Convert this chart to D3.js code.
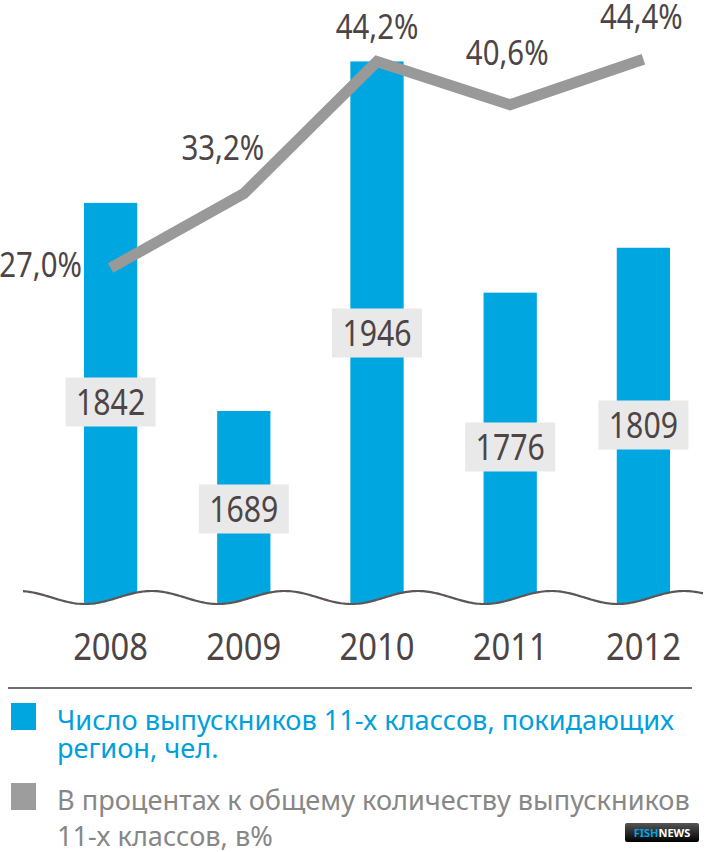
<!DOCTYPE html>
<html><head><meta charset="utf-8">
<script src="https://cdn.jsdelivr.net/npm/d3@7"></script>
<style>
html,body{margin:0;padding:0;background:#fff;}
svg{display:block;}
text{font-family:"Noto Sans",sans-serif;}
</style></head>
<body>
<script>
// ---- data ----
const years = ["2008","2009","2010","2011","2012"];
const graduatesLeaving = [1842, 1689, 1946, 1776, 1809];
const sharePercent = [27.0, 33.2, 44.2, 40.6, 44.4];
const shareLabels = ["27,0%","33,2%","44,2%","40,6%","44,4%"];
const legendLabels = [
  ["Число выпускников 11-х классов, покидающих","регион, чел."],
  ["В процентах к общему количеству выпускников","11-х классов, в%"]
];

// ---- layout (not data) ----
const W = 709, H = 852;
const valueLabelY = [402, 509, 333, 447, 425];
const pctLabelPos = [[-70, 9], [-21, -34], [0, -23], [-3, -40], [-2, -30]];
const COND = 0.84;

const svg = d3.select("body").append("svg").attr("width", W).attr("height", H);

const x = d3.scaleBand().domain(years).range([44, 710]).paddingInner(0.6).paddingOuter(0.3);
const yBar = d3.scaleLinear().domain([1550, 1950]).range([600, 56]);
const yPct = d3.scaleLinear().domain([0, 45]).range([592, 52]);
const cx = d => x(d) + x.bandwidth() / 2;

// bars
svg.append("g").selectAll("rect").data(years).join("rect")
  .attr("x", d => x(d)).attr("width", x.bandwidth())
  .attr("y", (d, i) => yBar(graduatesLeaving[i]))
  .attr("height", (d, i) => 615 - yBar(graduatesLeaving[i]))
  .attr("fill", "#00a6e0");

// wave baseline
const waveY = xx => 597.5 + 6.5 * Math.cos(2 * Math.PI * (xx - 85) / x.step());
const wavePts = d3.range(23, 705, 2).map(xx => [xx, waveY(xx)]);
const waveLine = d3.line();
svg.append("path")
  .attr("d", waveLine(wavePts) + `L704,630L23,630Z`)
  .attr("fill", "#fff");
svg.append("path")
  .attr("d", waveLine(wavePts))
  .attr("fill", "none").attr("stroke", "#5e5656").attr("stroke-width", 2.2);

// line
const line = d3.line().x((d, i) => cx(years[i])).y(d => yPct(d));
svg.append("path").attr("d", line(sharePercent))
  .attr("fill", "none").attr("stroke", "#999999").attr("stroke-width", 11)
  .attr("stroke-linejoin", "miter").attr("stroke-linecap", "butt");

// condensed text helper
function ctext(g, tx, ty, str, size, fill, anchor, sx) {
  return g.append("g").attr("transform", `translate(${tx},${ty}) scale(${sx},1)`)
    .append("text").attr("text-anchor", anchor).attr("font-size", size)
    .attr("fill", fill).text(str);
}

// value labels
const vl = svg.append("g");
years.forEach((yr, i) => {
  const c = cx(yr), cy = valueLabelY[i];
  vl.append("rect").attr("x", c - 45).attr("y", cy - 24.5).attr("width", 90).attr("height", 49)
    .attr("fill", "#e9e9e9");
  ctext(vl, c, cy + 13, String(graduatesLeaving[i]), 36, "#4d4545", "middle", COND);
});

// percent labels
const pl = svg.append("g");
years.forEach((yr, i) => {
  const px = cx(yr) + pctLabelPos[i][0], py = yPct(sharePercent[i]) + pctLabelPos[i][1];
  ctext(pl, px, py, shareLabels[i], 35, "#4d4545", "middle", COND);
});

// x axis labels
const xa = svg.append("g");
years.forEach(yr => ctext(xa, cx(yr), 660, yr, 39, "#4d4545", "middle", COND));

// separator
svg.append("line").attr("x1", 8).attr("x2", 692).attr("y1", 688).attr("y2", 688)
  .attr("stroke", "#6e6e6e").attr("stroke-width", 2);

// legend
const lg = svg.append("g");
const legColors = ["#00a6e0", "#9d9d9d"];
const legText = ["#00a0dc", "#878787"];
const legY = [730, 810];
const legLine2 = [758, 846];
legendLabels.forEach((lines, k) => {
  lg.append("rect").attr("x", 11).attr("y", legY[k] - 27).attr("width", 25).attr("height", 27)
    .attr("fill", legColors[k]);
  ctext(lg, 57, legY[k], lines[0], 28, legText[k], "start", 0.97);
  ctext(lg, 57, legLine2[k], lines[1], 28, legText[k], "start", 0.97);
});

// watermark
const defs = svg.append("defs");
const gr = defs.append("linearGradient").attr("id", "bg").attr("x1", 0).attr("x2", 0).attr("y1", 0).attr("y2", 1);
gr.append("stop").attr("offset", 0).attr("stop-color", "#555");
gr.append("stop").attr("offset", 1).attr("stop-color", "#000");
const wm = svg.append("g").attr("transform", "translate(625,823)");
wm.append("rect").attr("width", 74).attr("height", 19).attr("rx", 2).attr("fill", "url(#bg)");
const wt = wm.append("text").attr("x", 37).attr("y", 14).attr("text-anchor", "middle")
  .attr("font-size", 11).attr("font-weight", "bold").attr("font-family", "Liberation Sans, Arial, sans-serif");
wt.append("tspan").attr("fill", "#00a6e0").text("FISH");
wt.append("tspan").attr("fill", "#fff").text("NEWS");
</script>
</body></html>
